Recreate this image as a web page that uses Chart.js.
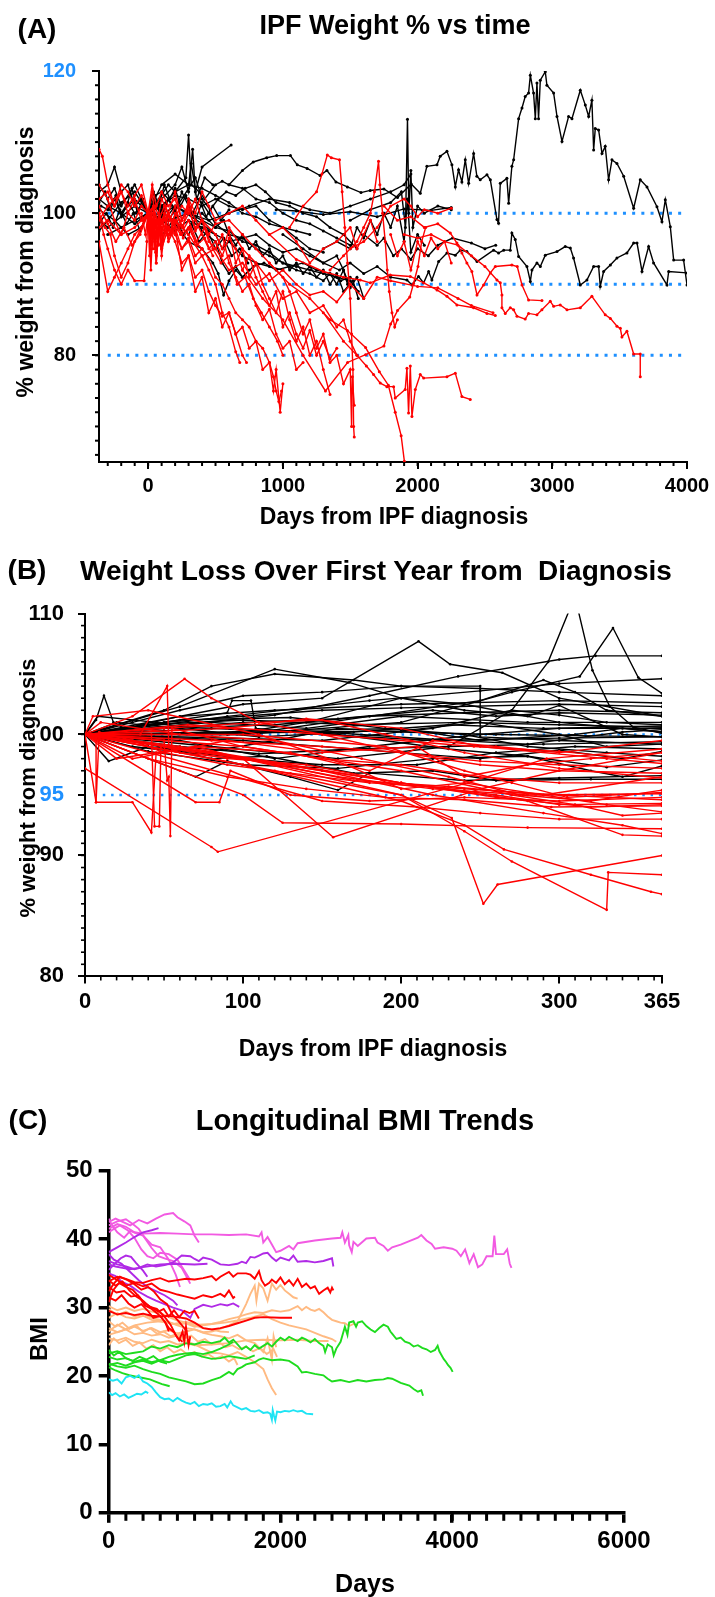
<!DOCTYPE html>
<html>
<head>
<meta charset="utf-8">
<script src="https://cdn.jsdelivr.net/npm/chart.js@4.4.1/dist/chart.umd.min.js"></script>
<style>
  html, body { margin: 0; padding: 0; background: #fff; }
  #page { position: relative; width: 715px; height: 1597px; overflow: hidden; font-family: "Liberation Sans", Arial, sans-serif; }
  canvas { position: absolute; left: 0; }
  .lbl { position: absolute; font-weight: bold; color: #000; white-space: pre; transform: translate(-50%, -50%); line-height: 1; }
  .rot { transform: translate(-50%, -50%) rotate(-90deg); }
</style>
</head>
<body>
<div id="page">
  <canvas id="chartA" width="715" height="530" style="top:0px"></canvas>
  <canvas id="chartB" width="715" height="530" style="top:530px"></canvas>
  <canvas id="chartC" width="715" height="537" style="top:1060px"></canvas>

  <div class="lbl" style="left:37px;top:29px;font-size:28px">(A)</div>
  <div class="lbl" style="left:395px;top:25px;font-size:27px">IPF Weight % vs time</div>
  <div class="lbl rot" style="left:25px;top:262px;font-size:23px">% weight from diagnosis</div>
  <div class="lbl" style="left:394px;top:516px;font-size:23px">Days from IPF diagnosis</div>

  <div class="lbl" style="left:27px;top:570px;font-size:28px">(B)</div>
  <div class="lbl" style="left:376px;top:571px;font-size:28px">Weight Loss Over First Year from  Diagnosis</div>
  <div class="lbl rot" style="left:28px;top:788px;font-size:22px;background:#fff">% weight from diagnosis</div>
  <div class="lbl" style="left:373px;top:1048px;font-size:23px">Days from IPF diagnosis</div>

  <div class="lbl" style="left:28px;top:1120px;font-size:28px">(C)</div>
  <div class="lbl" style="left:365px;top:1120px;font-size:29px">Longitudinal BMI Trends</div>
  <div class="lbl rot" style="left:39px;top:1339px;font-size:24px">BMI</div>
  <div class="lbl" style="left:365px;top:1583px;font-size:25px">Days</div>
</div>

<script>
// ---------- panel A : % weight vs days (black = stable, red = weight loss) ----------
const aXTicks = [0, 1000, 2000, 3000, 4000];
const aYTicks = [80, 100, 120];
const aRefLines = [100, 90, 80];

const aBlack = [
  [[600,104],[700,106],[780,107.2],[880,107.8],[954,108.1],[1056,108.1],[1107,106.8],[1180,106.3],[1276,105.3],[1327,106],[1394,104.4],[1479,103.7],[1580,102.9],[1648,103.2],[1750,103.4],[1851,102.2],[1953,104.1],[2020,102.8],[2069,106.6],[2144,106.8],[2168,108],[2218,108.7],[2255,106.8],[2280,103.7],[2304,106.1],[2329,104.4],[2354,107.5],[2379,104.2],[2416,108.4],[2440,105.2],[2465,104.7],[2515,105.4],[2540,104.7],[2589,99.1],[2601,98.6],[2614,104.2],[2663,104.9],[2676,101.4],[2700,106.6],[2713,107.5],[2750,113.3],[2775,114.8],[2799,116.4],[2824,116.9],[2837,119.4],[2861,116.9],[2874,113.3],[2886,118.3],[2898,113.3],[2911,118.7],[2948,119.9],[2960,118],[3010,116.9],[3035,113.6],[3072,110.1],[3121,113.6],[3146,113.3],[3208,117.3],[3245,115.2],[3270,113.6],[3294,115.9],[3307,108.9],[3319,111.9],[3344,111.7],[3369,108.4],[3393,109.4],[3418,104.7],[3443,107.5],[3480,107],[3530,105.2],[3604,100.7],[3653,104.7],[3703,103.7],[3777,100.9],[3814,98.8],[3839,101.9],[3876,98.1],[3901,93.4],[3975,93.4],[4000,89.9]],
  [[1000,97],[1150,95],[1300,93],[1420,92],[1500,93],[1600,91.5],[1700,92.5],[1800,91],[1921,90.6],[1958,89.9],[2007,91.1],[2045,90.2],[2082,91.8],[2106,90.6],[2156,93.2],[2218,94.4],[2280,94.1],[2317,94.8],[2366,94.6],[2441,93.2],[2564,94.8],[2601,94.4],[2639,94.8],[2688,94.8],[2700,97.2],[2725,96.3],[2750,93.9],[2812,92.5],[2837,90.4],[2849,92],[2886,93],[2911,92.5],[2948,94.1],[3035,94.6],[3096,95.3],[3134,95.1],[3158,93.7],[3208,89.9],[3257,90.6],[3307,92.5],[3344,92.5],[3356,89.7],[3381,91.8],[3431,92.7],[3480,93.7],[3554,94.4],[3604,95.8],[3629,95.8],[3666,91.8],[3715,95.3],[3752,93],[3851,89.9],[3864,91.8],[4000,91.6]],
  [[1500,99],[1650,100.5],[1800,101.5],[1880,103],[1910,98],[1925,113.2],[1935,100],[1950,106],[1965,98],[2000,101],[2050,100],[2150,101],[2250,100.5]],
  [[1600,97],[1700,95.5],[1750,96.5],[1820,94],[1880,95],[1950,93.5],[2000,95],[2080,94],[2150,95.5],[2260,96.5],[2400,95.8],[2500,95],[2580,95.5]],
  [[950,100.5],[1100,100.3],[1300,99.8],[1500,100.2],[1700,99.5],[1900,100.6],[2100,100.4],[2250,100.8]],
  [[-350,101],[-300,100.5],[-250,102],[-200,100],[-150,101.5],[-100,100],[-50,101],[0,100],[50,101.5],[100,99.5],[150,102],[200,100],[250,103],[300,101],[350,99],[400,101.5],[450,100],[500,98.5],[600,97],[700,96.5],[800,95],[900,94],[1000,93],[1100,92.5],[1200,92],[1300,91.5],[1400,91],[1500,90.5],[1560,89]],
  [[-365,99],[-300,98],[-200,99.5],[-100,101],[0,100],[80,102],[150,104],[200,103],[280,105],[300,111],[320,104],[380,103],[420,102],[500,104],[550,104.5],[600,104],[700,103.5],[800,102],[900,101.5],[1000,100],[1100,99],[1200,98.5],[1300,97.5],[1400,96.5],[1500,95.5]],
  [[-365,103],[-300,104],[-250,106.5],[-200,103],[-150,104],[-100,101],[-50,102],[0,100],[50,98],[100,101],[150,99],[200,100.5],[250,98],[300,97],[350,99],[400,97.5],[500,96],[550,93],[600,91.5],[650,92.5],[700,91],[750,92]],
  [[-200,100],[-100,98.5],[0,100],[100,102],[200,104],[250,106.5],[300,103],[330,109],[350,103],[400,106.5],[616,109.6]],
  [[0,100],[50,102.5],[100,103],[150,102],[200,100.5],[300,103.5],[350,105],[400,102],[460,100.5],[520,102],[580,103],[650,102.5],[720,103.5],[800,104],[870,103],[950,101.5],[1050,101],[1150,100],[1250,99.5],[1350,98],[1450,97],[1550,95]],
  [[-365,97.5],[-300,99],[-200,101.5],[-100,103],[0,100],[100,97],[200,98.5],[300,96],[400,95],[480,93],[520,91.5],[560,88.5],[600,90.5],[650,92],[700,91],[780,92.5],[860,93],[950,92],[1050,92.5],[1150,93],[1250,92],[1350,91.5],[1430,90.5],[1500,91]],
  [[-100,99],[0,100],[100,99.8],[200,101],[300,100],[400,99],[500,98],[600,97.5],[700,96],[800,95.5],[900,94.5],[1000,93],[1100,92],[1200,91.5],[1300,90.5],[1350,91.5],[1400,90],[1450,92],[1500,89.5],[1550,91],[1600,88]],
  [[0,100],[100,101],[200,102.5],[300,102],[400,101],[500,102],[600,101],[700,100.5],[800,101],[900,99],[1000,98],[1100,96.5],[1200,95],[1300,94.5]],
  [[-365,100.5],[-250,99],[-150,97],[-50,98],[0,100],[100,99],[200,97.5],[300,99],[400,98],[500,97],[550,95],[600,96],[700,94],[800,93],[900,92.5],[1000,92]],
  [[-300,97],[-200,98],[-100,99],[0,100],[100,101],[200,103],[300,104],[400,103.5],[500,102.5],[600,101.5],[700,100],[800,99.5],[900,98.5],[1000,98],[1100,97.5],[1200,97]],
  [[-365,102],[-300,101],[-200,100],[-100,102],[0,100],[60,101],[120,99],[200,101],[280,100],[400,98.5],[500,97],[600,96],[700,96.5],[800,97],[900,95.5],[1000,94.5],[1100,95],[1200,94],[1300,93],[1400,94],[1450,92],[1480,90]],
  [[0,100],[150,99],[300,100],[450,99],[600,100],[750,101],[900,102],[1050,101.5],[1200,100.5],[1350,100],[1500,101],[1650,102],[1800,103],[1900,104],[1950,105.5]],
  [[400,100],[500,98],[560,99],[600,97],[650,95.5],[700,97],[750,95],[800,96],[850,94],[900,95],[950,93],[1000,94],[1050,92],[1100,93],[1150,91.5],[1200,92.5],[1250,91],[1300,92],[1350,90],[1400,91.5],[1450,89],[1520,90.5],[1560,88]],
  [[-365,104],[-300,102],[-250,103.5],[-200,101],[-100,104],[0,100],[100,104],[200,105.5],[300,104],[320,107],[360,102],[420,105],[480,104]],
  [[1300,95],[1400,96],[1500,95],[1550,98],[1600,96.5],[1650,99],[1700,97],[1750,100],[1800,98],[1850,101],[1900,96],[1925,102],[1950,94.5],[2000,97],[2050,95.5]],
  [[-365,101.5],[-320,103],[-280,100.5],[-240,102.5],[-200,99.5],[-160,101],[-120,103.5],[-80,100],[-40,102],[0,100],[40,103],[80,101],[120,104],[160,102],[200,103.5],[240,101],[280,102.5],[330,100],[380,102],[430,99.5],[480,101],[540,99],[600,100.5]],
  [[-365,98.5],[-310,100],[-260,98],[-210,100.5],[-160,98.5],[-110,100],[-60,97.5],[0,100],[50,98.5],[100,100.5],[150,98],[200,99.5],[260,97],[320,98.5],[380,96],[440,97.5],[500,95],[560,96.5],[620,94],[680,95],[740,93]]
];

const aRed = [
  [[-365,109],[-340,108],[-300,104],[-250,101],[-200,103],[-150,100],[-100,99],[-50,101],[0,100],[50,96],[100,99],[150,97],[200,98],[250,95],[300,96],[350,93],[400,94],[450,92],[500,90],[550,86],[600,84],[650,80.5],[680,79]],
  [[-365,100],[-330,97],[-300,95],[-250,92],[-200,90],[-150,92],[-100,90.5],[-30,90.5],[-10,96],[0,100],[30,97],[60,99],[100,98],[150,96.5],[200,99],[250,97],[300,98],[350,96],[400,95]],
  [[-365,96],[-300,89],[-250,91],[-200,93],[-150,95],[-100,97],[-50,98],[0,100],[20,95],[40,98],[60,93],[80,99],[100,96],[140,98],[200,97],[250,95],[300,96.5],[350,94],[400,95],[450,93.5],[500,91],[550,90],[600,88],[650,86],[700,85],[750,84],[800,82],[850,81],[900,79],[930,77],[950,75],[970,73.5],[990,75]],
  [[-365,102],[-300,103],[-250,101],[-200,104],[-150,103],[-100,101],[-50,102.5],[0,100],[40,101],[80,98],[120,100],[180,99],[250,101],[300,100],[350,102],[400,99],[500,97],[550,95],[600,97.5],[650,93],[700,95],[750,91],[800,93],[850,90],[900,88],[950,86],[1000,89],[1050,85],[1100,82],[1150,84],[1200,80],[1250,82],[1300,78],[1350,74.5]],
  [[-365,98],[-300,99],[-200,97],[-100,98],[0,100],[50,97],[100,95],[150,98],[200,96],[250,93],[300,94],[350,91],[400,92],[450,89],[500,87],[550,85.5],[600,86],[650,83],[700,84],[750,81],[800,82],[850,78],[900,79],[930,75],[950,78],[980,72],[1000,76]],
  [[0,100],[30,104],[60,101],[100,103],[150,101],[200,102],[250,99],[300,100.5],[350,98],[400,99],[450,97],[500,98.5],[600,99],[700,97],[800,95],[900,93],[1000,91],[1050,89],[1100,86],[1150,83],[1200,85],[1250,81],[1300,83],[1350,79],[1400,80],[1450,76],[1500,78],[1510,70],[1515,77],[1530,73]],
  [[1050,98],[1150,101],[1250,103],[1290,105.5],[1330,108.2],[1360,107.8],[1420,107.5],[1440,103],[1460,98],[1480,93],[1500,88],[1510,83],[1520,78],[1525,70],[1530,68.5]],
  [[1350,92],[1450,94],[1550,96],[1600,98],[1650,100],[1680,103],[1710,107.3],[1720,104],[1740,100],[1760,96],[1775,92],[1790,89],[1810,86],[1830,84],[1850,85]],
  [[700,92],[850,88],[1000,85],[1150,80],[1316,75],[1480,79],[1614,80.1],[1750,81.3],[1800,84.4],[1851,86.3],[1942,88.2],[1970,90.1],[2003,92.5],[2030,96],[2060,98]],
  [[900,97],[1100,93.5],[1300,91.8],[1450,91],[1574,90.6],[1649,90.2],[1797,91.3],[1946,91.1],[2045,90.2],[2144,89.2],[2218,88.3],[2292,87.1],[2416,86.7],[2515,85.9],[2577,85.6]],
  [[1750,101],[1850,99],[1950,99.5],[2050,98],[2150,98.5],[2243,97.2],[2292,95.8],[2329,94.4],[2366,93],[2403,91.8],[2441,88.5],[2490,89.9],[2540,91.6],[2577,92.5],[2700,92.7],[2740,92.5],[2775,89.9],[2824,87.8],[2923,87.7]],
  [[1900,97],[2000,96.5],[2100,97],[2200,96],[2300,95.5],[2400,94],[2500,92.5],[2589,90.6],[2614,90.2],[2626,88.5],[2626,86.7],[2651,85.9],[2688,86.7],[2713,86.4],[2738,85.5],[2799,85.1],[2824,85.9],[2886,85.7],[2923,86.4],[2985,87.6],[3010,86.9],[3059,87.1],[3109,86.4],[3208,86.7],[3294,88.3],[3393,85.7],[3431,85.2],[3480,84.1],[3505,83.8],[3517,82.6],[3554,83.4],[3604,80.2],[3653,80.2],[3653,77]],
  [[900,93],[1050,90],[1200,88],[1350,85],[1479,83.5],[1614,81.1],[1716,77.7],[1783,75.8],[1834,72],[1878,68.7],[1902,65.1],[1910,62]],
  [[1300,86],[1450,82],[1550,80],[1620,78.5],[1673,77.3],[1723,76.1],[1772,75.6],[1822,75.6],[1834,74],[1908,75.2],[1921,78.2],[1933,71.9],[1946,78.5],[1958,71.4],[1983,75.2],[2020,77.3],[2045,76.8],[2218,77],[2280,77.5],[2329,74.2],[2391,73.8]],
  [[1500,95],[1600,96],[1700,98],[1800,101],[1900,102],[1950,101],[2000,99.5],[2050,100.5],[2150,100],[2250,100.7]],
  [[-365,104],[-300,102],[-250,99],[-200,97],[-150,100],[-100,102],[-50,99],[0,100],[20,92],[40,100],[60,94],[80,99],[100,95],[120,100],[150,96],[200,98],[250,92],[300,94],[350,89],[400,91],[450,86],[500,88],[550,84],[600,86],[650,83],[700,80],[730,79]],
  [[0,100],[50,101],[100,98.5],[150,100],[200,97],[250,99],[300,101.5],[350,99],[400,97],[450,95],[500,96],[550,94],[600,96.5],[650,95],[700,92],[750,94],[800,91],[850,89],[900,87],[950,89],[1000,84],[1050,86],[1100,83],[1150,81],[1200,83.5],[1250,80],[1300,82],[1350,79.5],[1400,81]],
  [[-365,99],[-300,101],[-200,103],[-150,101],[-100,102.5],[-50,104],[0,100],[30,103],[60,98],[100,102],[150,100],[200,103],[250,99],[300,101],[350,97.5],[400,99],[450,96],[500,95],[550,97],[600,93],[650,91],[700,89],[750,90],[800,87],[850,85],[900,86.5],[950,83],[1000,81],[1050,82],[1100,78],[1150,79]],
  [[200,99],[300,97],[400,94],[500,95],[600,92],[700,93],[800,90],[900,91.5],[1000,88],[1100,89],[1200,86],[1300,87],[1400,84],[1450,85],[1500,82],[1550,80]],
  [[0,100],[20,96],[40,100],[60,93],[80,98],[100,94],[130,99],[160,97],[200,100],[260,98],[300,102],[350,100],[400,103],[450,101],[500,99],[600,100],[700,101],[800,99],[900,97],[1000,98],[1100,96],[1200,93],[1300,95],[1400,96],[1500,98],[1550,95],[1600,97],[1650,99],[1700,96]],
  [[-50,100],[-20,97],[0,100],[10,94],[20,100],[30,96],[40,101],[50,95],[60,99],[70,96],[80,100],[100,97],[130,101],[160,99],[200,101],[250,98],[300,100]],
  [[-365,100],[-320,98],[-280,97],[-250,94],[-200,91],[-150,93],[-100,96],[-50,98],[0,100]],
  [[600,98],[700,95],[800,93],[900,90.5],[1000,92],[1100,90],[1200,88.5],[1300,89],[1400,87.5],[1500,90],[1600,88],[1700,91],[1800,90.5],[2000,89.7],[2150,89.5],[2300,88],[2400,87],[2560,86]],
  [[1800,97],[1850,94],[1900,96],[1950,92],[2000,96],[2050,94],[2100,96.5],[2150,95],[2200,96],[2250,93]],
  [[-40,99],[0,100],[15,96.5],[25,100.5],[35,95],[45,99.5],[55,94.5],[65,98.5],[75,95.5],[90,99],[110,96],[140,99.5],[170,97],[210,99],[260,96.5],[310,98],[360,95.5],[420,96.5],[480,94]],
  [[-365,101],[-300,98.5],[-240,96],[-180,98],[-120,95.5],[-60,97],[0,100],[60,98],[120,101],[180,99],[240,97],[300,99],[360,96],[420,98],[480,95],[540,93],[600,94],[660,90],[720,91],[780,88],[840,86],[900,84],[960,82],[1000,80]]
];

// ---------- panel B : first year ----------
const bXTicks = [0, 100, 200, 300, 365];
const bYTicks = [80, 90, 95, 100, 110];
const bRefLines = [100, 95];

const bBlack = [
  [[0,100],[7,101.2],[12,103.2],[18,101],[25,100.5],[60,101.5],[120,102],[200,102.5],[300,102.8],[365,102.6]],
  [[0,100],[120,101.6],[180,103.2],[236,104.8],[300,106.2],[323,106.5],[365,106.5]],
  [[0,100],[90,101.5],[180,102.8],[250,103.6],[300,104.2],[365,104.6]],
  [[0,100],[60,102.3],[120,105.4],[167,104.3],[200,103],[240,102.5],[300,101],[365,100.2]],
  [[0,100],[100,102.5],[150,103],[211,107.7],[231,105.8],[264,105.1],[300,103],[365,101.5]],
  [[0,100],[80,99],[160,98],[230,99],[270,102],[293,106],[308,110.8],[311,110.8],[321,105.3],[332,102.3],[347,100.6],[365,100.1]],
  [[0,100],[100,100],[200,101],[270,103.5],[313,104.8],[334,108.8],[350,104.7],[365,103.4]],
  [[0,100],[50,102],[80,104],[120,105],[170,104.5],[200,104],[250,104],[250,99.8],[300,99.5],[365,99.2]],
  [[0,100],[30,101],[60,102],[100,103.2],[150,103.5],[200,104],[250,103.8],[300,103.5],[365,103.2]],
  [[0,100],[50,101],[100,101.5],[150,102],[200,102.2],[300,102.5],[365,102.3]],
  [[0,100],[80,101],[140,100.5],[200,101.5],[280,101],[365,101]],
  [[0,100],[60,99.5],[120,98],[180,99],[250,100],[300,100.5],[365,100.5]],
  [[0,100],[15,97.8],[40,99],[100,98],[150,97.5],[210,97.5],[260,98.5],[310,99],[365,98.8]],
  [[0,100],[70,96.5],[90,97.8],[130,96.5],[160,95.4],[180,96.8],[240,96.2],[300,96.4],[365,96.6]],
  [[0,100],[40,99.2],[80,98],[115,98.2],[170,96.8],[220,97],[260,96.2],[320,96.3],[365,96.3]],
  [[0,100],[80,100.5],[160,100],[230,98.8],[280,98.2],[330,97.3],[365,97.9]],
  [[0,100],[90,101.8],[93,102.8],[105,102.8],[108,100.5],[150,100],[220,99.5],[300,99.7],[365,99.8]],
  [[0,100],[40,100.8],[100,101.2],[170,100.8],[240,101],[300,100.8],[365,100.6]],
  [[0,100],[60,99],[110,98.4],[170,98.8],[230,99],[290,99.2],[365,99.4]],
  [[0,100],[100,100],[180,101.5],[250,102.8],[290,104.5],[310,103.5],[330,102],[365,101.5]],
  [[0,100],[150,99.5],[220,100.5],[270,102],[300,101.6],[330,101],[365,100.8]],
  [[0,100],[40,98.6],[100,97.5],[160,97.2],[220,98],[280,98.2],[320,97],[340,96.5],[365,97.4]],
  [[0,100],[100,99.5],[200,98.5],[250,98],[300,98.7],[340,98],[365,98.6]],
  [[0,100],[120,100.3],[200,100.5],[250,99.5],[310,100],[340,100.5],[365,100.2]],
  [[0,100],[30,99],[70,98.4],[120,99.5],[160,100.5],[200,100.2],[260,100],[365,99.8]],
  [[0,100],[50,100.5],[120,100.8],[180,101.5],[240,101.8],[300,102],[365,101.8]],
  [[0,100],[200,100.3],[250,101],[300,100],[330,99],[365,99.2]],
  [[0,100],[60,101.2],[130,101.4],[190,100.5],[240,100],[280,99],[330,98.5],[365,98.2]],
  [[0,100],[150,100.2],[220,99.6],[280,99.2],[340,100.2],[365,100.4]],
  [[0,100],[100,101],[160,101.3],[220,102],[260,101.5],[300,101.8],[365,101.6]],
  [[0,100],[20,101],[60,100.5],[110,99.8],[170,100.2],[230,100.8],[290,100.5],[365,100.7]],
  [[0,100],[8,101.5],[45,101],[90,100],[140,101],[200,103],[240,102],[280,101.5],[300,102.4],[340,100],[365,99.8]]
];

const bRed = [
  [[0,100],[30,101.5],[63,104.6],[80,103],[110,101],[150,100],[200,98.5],[250,97.5],[300,97],[365,96.8]],
  [[0,97.2],[80,90.7],[84,90.3],[239,95.9],[292,98],[365,98.8]],
  [[0,100],[7,100],[7,94.4],[9,100.2],[30,99.5],[50,98.5],[90,97.5],[130,96.8],[180,96],[240,95.5],[300,95],[365,94.6]],
  [[0,100],[7,94.4],[30,94.4],[42,91.9],[45,98.5],[70,99],[100,98],[150,97],[200,96],[260,95],[300,94.2],[365,94.3]],
  [[0,100],[42,100],[44,92.4],[47,92.4],[48,99],[90,98],[140,97.5],[200,96],[260,94.8],[320,94],[365,94.2]],
  [[0,100],[50,99.5],[52,96.2],[53,96.5],[54,91.6],[55,100.5],[100,99],[150,98],[200,97.5],[250,96.5],[300,96],[365,96]],
  [[0,100],[35,100],[52,104],[53,99],[80,98.5],[120,97.5],[160,96.5],[220,95.5],[280,95],[365,95.1]],
  [[0,100],[70,94.4],[85,94.4],[92,97],[130,95],[180,94.5],[240,94.8],[300,94.5],[365,94.8]],
  [[0,100],[60,97],[100,95],[125,92.7],[200,92.6],[280,92.3],[365,92.2]],
  [[0,100],[100,98],[157,91.5],[250,95.5],[300,97],[365,98.5]],
  [[0,100],[120,97],[200,95],[232,93.1],[252,86],[261,87.6],[365,90]],
  [[0,100],[100,98],[200,95],[240,92],[270,89.5],[330,85.5],[331,88.6],[365,88.4]],
  [[0,100],[100,97.5],[200,94.5],[240,92.5],[265,90.5],[320,88.4],[358,87],[365,86.8]],
  [[0,100],[80,98.5],[150,97],[220,95],[290,93.5],[340,92.5],[365,91.8]],
  [[0,100],[60,99],[130,97.5],[200,96],[280,94.5],[340,91.7],[365,91.6]],
  [[0,100],[150,94.5],[210,94],[250,93.5],[300,93],[365,93]],
  [[0,100],[80,99.5],[150,99],[200,98.5],[250,97.8],[300,97.5],[365,97.2]],
  [[0,100],[50,100.5],[110,101],[150,101.2],[190,100],[240,98.5],[300,97.2],[365,96.4]],
  [[0,100],[20,98],[70,99],[130,98.5],[180,97],[220,99.5],[260,99],[300,98.5],[365,99.5]],
  [[0,100],[90,100.5],[140,101.3],[200,100.5],[250,99],[330,98],[365,97.6]],
  [[0,100],[60,98.5],[110,97.8],[170,96.2],[230,95.7],[290,95],[330,94.2],[365,93.6]],
  [[0,100],[100,100],[190,99],[240,97],[270,96],[305,94.8],[365,95.2]],
  [[0,100],[40,98],[90,96.5],[140,95.5],[190,94.8],[240,94.6],[295,94],[365,94.1]],
  [[0,100],[65,100.8],[130,100.2],[190,99.6],[246,99],[300,98.6],[365,97.8]],
  [[0,100],[100,99],[200,97],[270,95],[310,94.2],[340,93.3],[365,93.5]],
  [[0,100],[30,98],[90,99.5],[150,98.5],[210,99],[240,96.5],[280,97.5],[320,98],[365,98.5]],
  [[0,100],[10,101],[60,100],[120,99.5],[175,98],[230,96.5],[275,95],[320,94.5],[365,95.4]],
  [[0,100],[5,101.5],[40,102],[110,100],[165,97.5],[200,95.5],[240,96],[290,95],[365,96.5]]
];

// ---------- panel C : BMI trajectories by BMI group ----------
const cXTicks = [0, 2000, 4000, 6000];
const cYTicks = [0, 10, 20, 30, 40, 50];

const cMagenta = [
  [[0,41.5],[100,42.2],[200,41.8],[300,41],[400,40.8],[600,40.9],[800,40.8],[1000,40.7],[1200,40.7],[1400,40.6],[1600,40.7],[1750,40.4],[1780,41],[1800,39.5],[1850,40.3],[1900,39.2],[1950,38.1],[2000,38.3],[2100,39],[2150,38.5],[2200,39.4],[2400,39.8],[2600,40.1],[2700,40.2],[2720,41],[2750,39.5],[2790,40.6],[2800,39.1],[2830,38.1],[2850,39.6],[2900,39],[3000,40.1],[3100,40.2],[3130,39.5],[3200,39],[3250,38.3],[3300,38.8],[3400,39.2],[3500,39.7],[3600,40.2],[3640,40.6],[3700,39.8],[3760,39.3],[3800,38.6],[3900,38.8],[4000,38.6],[4050,38.3],[4100,37.5],[4150,38.5],[4200,36.5],[4250,37.8],[4300,35.9],[4350,36.3],[4400,37.5],[4470,37.5],[4490,40.5],[4510,37.8],[4600,37.8],[4640,38.5],[4670,36.4],[4690,35.8]],
  [[0,42.5],[80,43],[150,42.6],[250,42],[350,42.8],[450,42.3],[550,43],[650,43.6],[750,43.8],[800,43.2],[880,42.6],[950,42],[1000,40.5],[1050,39.5]],
  [[0,42],[100,42.6],[200,42.9],[280,42.2],[350,41.5],[430,40],[500,38.7],[580,37.5],[650,37.2],[750,36.8],[850,35.8],[950,33.5]],
  [[0,41],[60,41.5],[130,42],[220,41.3],[300,40.2],[380,38.5],[450,37.5],[520,37.2],[600,38],[700,37.8],[800,37],[900,35],[950,34]],
  [[0,43],[40,42],[100,41],[180,40.2],[250,41.2],[330,40.8],[400,40.5],[500,39.2],[600,38.8],[700,37],[780,34.8],[830,33]]
];
const cPurple = [
  [[0,38.1],[100,38.8],[200,39.5],[300,40.3],[400,41],[500,41.3],[580,41.6]],
  [[0,36.3],[80,36],[160,35.8],[250,35.6],[350,35.8],[450,36.3],[550,36],[650,36.2],[750,36.6],[850,37.6],[950,37.5],[1000,37.1],[1050,36.8],[1100,37.3],[1200,37],[1300,36.3],[1400,36.2],[1500,36.4],[1550,36.7],[1600,36.5],[1650,37.4],[1700,37.3],[1750,37.6],[1800,37.9],[1850,38],[1900,37.3],[1950,36.8],[2000,37.3],[2100,36.9],[2150,37.6],[2200,36.7],[2300,36.8],[2400,36.6],[2500,36.8],[2600,37.2],[2616,36]],
  [[0,36.8],[100,36.3],[200,36],[300,35.6],[400,35.9],[500,36.1],[600,36.3],[800,36.4],[1000,36.3],[1150,36.4]],
  [[0,35],[80,34.6],[150,33.8],[250,33.2],[350,32.3],[450,31.6],[550,31],[650,30.5],[750,30],[850,29.6],[950,28.5],[1000,29.8],[1100,30.4],[1200,30.1],[1300,30.5],[1380,30.3],[1450,30.6],[1520,30.1]],
  [[0,37.8],[60,37],[150,36.4],[250,35.2],[350,34],[450,33],[550,32.4],[650,31.8],[750,31],[800,30.3]],
  [[0,35.5],[70,36.4],[140,37.2],[200,37.6],[260,37.4],[320,36.5],[400,35.4],[450,34.5]]
];
const cRed = [
  [[0,33.8],[100,34.5],[200,34.2],[300,33.7],[400,33.6],[500,34],[600,34.3],[700,33.8],[800,34],[900,34.2],[1000,34.1],[1100,34.3],[1200,34.6],[1250,34],[1300,34.5],[1400,35.2],[1450,34.5],[1500,35],[1600,35],[1650,34.8],[1700,34.2],[1750,35.3],[1780,34],[1820,33.2],[1870,33.6],[1900,34.1],[1950,33.6],[2000,34.4],[2050,33.4],[2100,34],[2150,33.2],[2200,34.2],[2250,33],[2300,33.5],[2350,32.8],[2400,33.1],[2450,32],[2500,32.5],[2550,32.9],[2580,32.2],[2600,32.9],[2616,32.5]],
  [[0,34.8],[100,34],[200,33.2],[300,33.6],[400,33.1],[500,33.5],[600,32.6],[700,32.3],[800,31.9],[900,31.6],[1000,31.3],[1100,31.8],[1200,31.5],[1300,32],[1350,31.6],[1400,32.5],[1450,31.4],[1470,31.6]],
  [[0,34],[80,33.2],[160,33.8],[240,32.5],[320,31.6],[400,31],[480,30.1],[560,29.8],[640,28.8],[720,27.5],[780,26],[820,25.2],[860,26.5],[880,25],[900,27.2],[930,24.5],[950,25.8]],
  [[0,30.8],[50,32.5],[120,33.6],[200,33],[280,32.6],[360,31.5],[420,30.3],[500,29.8],[580,29],[650,28],[700,27],[760,26.4],[800,25.6],[860,25]],
  [[0,33],[90,32.2],[180,32.4],[260,31.6],[340,31.8],[420,30.6],[500,30],[580,29.4],[640,29.8],[700,28.7],[760,29.6],[820,28.6],[880,29.5],[940,29.2],[1000,29.5],[1050,28.4]],
  [[0,29.5],[100,29],[200,29.2],[300,28.9],[400,29.1],[500,28.8],[600,28.7],[700,28.8],[800,28.6],[900,28.4],[1000,27.8],[1100,27],[1200,26.8],[1300,27],[1400,27.3],[1500,27.7],[1600,28.1],[1700,28.5],[1800,28.6],[2000,28.5],[2134,28.5]],
  [[0,32.4],[60,33.5],[130,34.5],[220,34],[300,33.4],[380,32.6],[460,33],[530,32.3],[600,31.2],[680,30.5],[740,29],[800,28.2],[860,27.3],[910,26.5]],
  [[0,31.5],[80,31],[150,31.8],[230,30.6],[300,30],[380,30.5],[450,29.6],[520,28.5],[600,28.8],[660,27.8],[700,26.5]]
];
const cOrange = [
  [[0,26.5],[100,27.5],[200,26.8],[300,27.2],[400,26.6],[500,27],[600,26.4],[700,26.7],[800,26.2],[900,26.5],[1000,26.8],[1100,26.4],[1200,26.5],[1300,26.9],[1400,27.4],[1500,28],[1600,30.5],[1650,32],[1700,33.2],[1720,31],[1750,33.5],[1800,32.8],[1850,31],[1900,33.5],[1950,32.6],[2000,33.3],[2050,32.5],[2100,32],[2150,31.5],[2200,31.3]],
  [[0,28.5],[100,29.2],[200,28.6],[300,28.4],[400,28.8],[500,28.2],[600,28],[700,27.8],[800,27.5],[900,27.7],[1000,27.2],[1100,27.4],[1200,27.6],[1300,27.9],[1400,28.3],[1500,28.6],[1600,29],[1700,29.3],[1800,29.2],[1900,29.6],[2000,29.4],[2100,29.6],[2200,30.2],[2250,29.6],[2300,30.1],[2350,29.7],[2400,29.5],[2450,29.8],[2500,29.3],[2550,28.7],[2600,28.2],[2650,28],[2700,27.8],[2750,27.7],[2800,27.3],[2850,27.6],[2900,27.4]],
  [[0,25.5],[100,25.2],[200,25.6],[300,25],[400,24.8],[500,25.3],[600,24.9],[700,25.1],[800,24.6],[900,24.8],[1000,24.5],[1200,24.6],[1400,24.8],[1600,25.2],[1800,25.3],[2000,25.2],[2200,25.3],[2400,25.1],[2560,25.1]],
  [[0,27],[100,26.4],[200,26.8],[300,26.1],[400,26.3],[500,25.9],[600,26.1],[700,25.6],[800,25.9],[900,25.1],[1000,24.6],[1100,24],[1200,23.4],[1300,23.3],[1400,23],[1500,23.5],[1600,22.8],[1700,22],[1800,21],[1850,19.5],[1900,18.2],[1950,17.2]],
  [[0,28],[80,27.2],[160,27.8],[240,26.9],[320,27.4],[400,26.4],[480,27],[560,26.2],[640,26.5],[720,25.8],[800,26.2],[880,25.5],[960,25.9],[1040,25],[1120,25.4],[1200,24.6],[1280,25],[1360,24.2],[1440,24.5],[1520,23.9],[1600,24.3],[1680,23.6],[1760,24.1],[1840,23.2],[1920,23.9],[1960,22.8]],
  [[0,29.8],[100,28.9],[200,29.4],[300,28.7],[400,29.1],[500,28.5],[600,28.2],[700,27.9],[800,27.4],[900,27],[1000,26.8],[1100,26.3],[1200,26],[1300,25.8],[1400,25.5],[1500,26],[1600,25.2],[1700,24.8],[1800,23.5],[1850,25.5],[1900,22.4],[1920,25.8],[1950,24.2]],
  [[0,24.5],[60,25.5],[120,24.8],[200,25.3],[280,24.4],[360,24.9],[440,24],[520,24.5],[600,23.6],[680,24.2],[760,23.4],[840,23.9],[920,23.1],[1000,23.5],[1080,22.8],[1160,23.2],[1240,22.5],[1320,22.9],[1400,22.1],[1460,22.6],[1500,21.6]],
  [[0,26],[150,26.6],[300,27.4],[450,27.8],[600,28],[750,27.6],[900,27.9],[1050,27.5],[1200,27.6],[1350,27.8],[1500,28.1],[1650,28.5],[1800,29],[1900,28.3],[2000,27.8],[2100,27.4],[2200,27.1],[2300,26.8],[2400,26.3],[2500,25.8],[2600,25.4],[2650,25]],
  [[0,30.2],[100,29.6],[200,30],[300,29.5],[400,29.8],[500,29.4],[600,29.2],[700,28.6],[800,28.1],[900,27.8],[1000,27.4],[1100,27],[1200,26.8],[1300,26.5],[1400,26.4]]
];
const cGreen = [
  [[0,23.3],[100,23.6],[200,23.2],[300,23.4],[400,23.6],[500,24.3],[600,24],[700,24.5],[800,24.2],[900,24.8],[1000,24.6],[1100,25],[1200,24.8],[1300,25.1],[1350,25.6],[1400,24.9],[1450,25.3],[1500,24.6],[1550,23.9],[1600,24.3],[1650,23.8],[1700,24.5],[1750,24],[1800,24.4],[1850,24.8],[1900,24.3],[1950,25],[2000,25.6],[2050,25.2],[2100,25.7],[2150,25.4],[2200,25.1],[2250,25.6],[2300,25.3],[2350,24.9],[2400,25.4],[2450,24.8],[2500,24.4],[2520,23.5],[2550,24.6],[2600,24.2],[2620,23],[2650,24],[2700,25],[2750,27.2],[2780,26],[2800,27.8],[2850,28],[2880,27.2],[2900,27.8],[2950,28],[3000,27.3],[3050,26.8],[3100,26.4],[3150,27],[3200,27.5],[3250,27.2],[3280,26.5],[3300,26.2],[3350,25.4],[3400,25.6],[3450,25],[3500,24.8],[3550,24.3],[3600,24.5],[3650,24.1],[3700,23.9],[3750,23.5],[3800,23.8],[3830,24.4],[3850,23.6],[3900,22.5],[3930,22],[3950,21.6],[3980,21.2],[4005,20.6]],
  [[0,21.8],[100,21.4],[200,21.2],[300,21.5],[400,21],[500,20.6],[600,20.3],[700,19.8],[800,19.5],[900,19.2],[1000,18.8],[1100,18.9],[1200,19.4],[1300,19.8],[1400,20.6],[1450,20.2],[1500,21],[1550,21.3],[1600,21.7],[1700,22],[1750,22.4],[1800,22.6],[1900,22.3],[2000,22.4],[2100,22.2],[2200,21.4],[2250,20.5],[2300,20.6],[2400,20.3],[2500,20.1],[2550,19.6],[2600,19.2],[2700,19.4],[2800,19.1],[2900,19.4],[3000,19.2],[3100,19.4],[3200,19.5],[3250,19.7],[3300,19.6],[3400,19],[3500,18.6],[3550,18.1],[3600,17.7],[3640,17.9],[3660,17.1]],
  [[0,21.3],[80,20.8],[160,20.4],[240,20.1],[320,19.9],[400,19.7],[480,19.5],[560,19.1],[620,18.8],[680,18.6],[710,18.5]],
  [[0,22.8],[100,22.4],[200,22.6],[300,22.1],[400,22.4],[500,22],[600,22.3],[700,22.8],[800,23.1],[900,23.3],[1000,23.4],[1100,23.2],[1200,23.5],[1300,24],[1400,24.6],[1450,25]],
  [[0,21.6],[100,21.9],[200,21.5],[300,22],[400,22.2],[500,21.8],[600,22.3],[700,22],[800,22.5],[900,23],[1000,23.2],[1100,22.8],[1200,22.5],[1300,22.6],[1400,22.9],[1500,22.7],[1600,22.5],[1700,23]],
  [[0,23.8],[60,23],[120,23.5],[200,22.6],[280,22.2],[360,22.8],[440,22.4],[520,22.9],[600,22.1],[680,21.8]]
];
const cCyan = [
  [[0,19.5],[50,19.3],[100,19.5],[150,18.9],[200,19.8],[250,20],[300,19.7],[350,20.1],[400,19.2],[450,18.9],[500,18.4],[550,17.6],[600,16.9],[650,16.6],[700,16.7],[750,16.3],[800,16.8],[850,16.4],[900,16.1],[950,15.9],[1000,16.2],[1050,15.6],[1100,15.9],[1150,15.8],[1200,16],[1250,15.5],[1300,15.6],[1350,15.9],[1380,15.4],[1420,16.3],[1450,15.7],[1500,15.4],[1550,15.1],[1600,15.3],[1650,14.9],[1700,14.8],[1750,15],[1800,14.6],[1850,14.7],[1880,14.5],[1900,13.6],[1910,15],[1925,14.2],[1940,13.5],[1960,14.8],[2000,14.7],[2050,14.9],[2100,14.8],[2150,15],[2200,14.8],[2250,14.9],[2300,14.5],[2380,14.4]],
  [[0,17.6],[40,17.2],[80,17.5],[130,17],[180,17.3],[230,16.8],[280,17.1],[330,17.4],[380,17.3],[430,17.7],[460,17.5]]
];

// ---------- helpers ----------
const FONT = '"Liberation Sans", Arial, sans-serif';
const BLUE = '#1E90FF';

function toXY(s) {
  return s.map(p => ({ x: p[0], y: p[1] }));
}

// higher "order" is painted first (underneath)
function seriesSets(list, color, width, radius, order) {
  return list.map(s => ({
    data: toXY(s),
    borderColor: color,
    backgroundColor: color,
    borderWidth: width,
    pointRadius: radius,
    pointBorderWidth: 0,
    tension: 0,
    order: order
  }));
}

function refSets(values, x0, x1, width, dash) {
  return values.map(v => ({
    data: [{ x: x0, y: v }, { x: x1, y: v }],
    borderColor: BLUE,
    borderWidth: width,
    borderDash: dash,
    pointRadius: 0,
    order: 10
  }));
}

// short minor ticks between the labelled ones
const minorTicks = {
  id: 'minorTicks',
  afterDraw(chart, args, opts) {
    const ctx = chart.ctx;
    ctx.save();
    ctx.strokeStyle = '#000';
    ctx.lineWidth = opts.width;
    ['x', 'y'].forEach(k => {
      const o = opts[k];
      if (!o) return;
      const s = chart.scales[k];
      for (let i = 0; o.from + i * o.step <= o.to; i++) {
        const v = o.from + i * o.step;
        const p = s.getPixelForValue(v);
        ctx.beginPath();
        if (k === 'x') {
          ctx.moveTo(p, s.top);
          ctx.lineTo(p, s.top + o.len);
        } else {
          ctx.moveTo(s.right, p);
          ctx.lineTo(s.right - o.len, p);
        }
        ctx.stroke();
      }
    });
    ctx.restore();
  }
};

function makeChart(id, datasets, cfg) {
  return new Chart(document.getElementById(id), {
    type: 'line',
    data: { datasets: datasets },
    plugins: [minorTicks],
    options: {
      responsive: false,
      animation: false,
      devicePixelRatio: 1,
      layout: { padding: cfg.padding },
      plugins: {
        legend: { display: false },
        tooltip: { enabled: false },
        minorTicks: cfg.minor
      },
      scales: {
        x: {
          type: 'linear',
          min: cfg.x.min,
          max: cfg.x.max,
          afterBuildTicks: s => { s.ticks = cfg.x.ticks.map(v => ({ value: v })); },
          afterFit: s => { s.height = cfg.x.size; },
          grid: { drawOnChartArea: false, color: '#000', tickLength: cfg.tickLen, lineWidth: cfg.axisW },
          border: { display: true, color: '#000', width: cfg.axisW },
          ticks: {
            color: '#000',
            padding: cfg.x.pad,
            maxRotation: 0,
            autoSkip: false,
            callback: v => String(v),
            font: { family: FONT, size: cfg.fontSize, weight: 'bold' }
          }
        },
        y: {
          type: 'linear',
          min: cfg.y.min,
          max: cfg.y.max,
          afterBuildTicks: s => { s.ticks = cfg.y.ticks.map(v => ({ value: v })); },
          afterFit: s => { s.width = cfg.y.size; },
          grid: { drawOnChartArea: false, color: '#000', tickLength: cfg.tickLen, lineWidth: cfg.axisW },
          border: { display: true, color: '#000', width: cfg.axisW },
          ticks: {
            color: c => (cfg.y.blue.includes(c.tick.value) ? BLUE : '#000'),
            padding: cfg.y.pad,
            autoSkip: false,
            callback: v => String(v),
            font: { family: FONT, size: cfg.fontSize, weight: 'bold' }
          }
        }
      }
    }
  });
}

// ---------- panel A ----------
makeChart('chartA',
  refSets(aRefLines, -300, 4000, 3, [3, 6.2])
    .concat(seriesSets(aBlack, '#000', 1.4, 1.5, 2))
    .concat(seriesSets(aRed, '#FF0000', 1.4, 1.5, 1)),
  {
    padding: { left: 0, top: 71, right: 28, bottom: 18 },
    fontSize: 20, tickLen: 7, axisW: 2,
    x: { min: -365, max: 4000, ticks: aXTicks, size: 50, pad: 5 },
    y: { min: 65, max: 120, ticks: aYTicks, size: 99, pad: 16, blue: [120] },
    minor: { width: 2, x: { from: -300, to: 3900, step: 100, len: 4 }, y: { from: 66, to: 118, step: 2, len: 4 } }
  });

// ---------- panel B ----------
makeChart('chartB',
  refSets(bRefLines, 6, 365, 2.5, [2.5, 5.8])
    .concat(seriesSets(bBlack, '#000', 1.4, 1.3, 2))
    .concat(seriesSets(bRed, '#FF0000', 1.4, 1.3, 1)),
  {
    padding: { left: 0, top: 83.5, right: 53, bottom: 33.6 },
    fontSize: 22, tickLen: 7, axisW: 2,
    x: { min: 0, max: 365, ticks: bXTicks, size: 50, pad: 5 },
    y: { min: 80, max: 110, ticks: bYTicks, size: 85, pad: 14, blue: [95] },
    minor: { width: 1.6, x: { from: 10, to: 360, step: 10, len: 4 }, y: { from: 81, to: 109, step: 1, len: 4 } }
  });

// ---------- panel C ----------
makeChart('chartC',
  seriesSets(cMagenta, '#F25AE2', 1.9, 0, 6)
    .concat(seriesSets(cPurple, '#B02AE6', 1.9, 0, 5))
    .concat(seriesSets(cOrange, '#FFBA82', 1.9, 0, 4))
    .concat(seriesSets(cGreen, '#1EDC1E', 1.9, 0, 3))
    .concat(seriesSets(cCyan, '#1EE4F4', 1.9, 0, 2))
    .concat(seriesSets(cRed, '#FF0000', 1.9, 0, 1)),
  {
    padding: { left: 0, top: 110.7, right: 91, bottom: 24.2 },
    fontSize: 24, tickLen: 10, axisW: 3.5,
    x: { min: 0, max: 6000, ticks: cXTicks, size: 60, pad: 4 },
    y: { min: 0, max: 50, ticks: cYTicks, size: 108.7, pad: 6, blue: [] },
    minor: { width: 3, x: { from: 200, to: 5800, step: 200, len: 8 } }
  });
</script>
</body>
</html>
